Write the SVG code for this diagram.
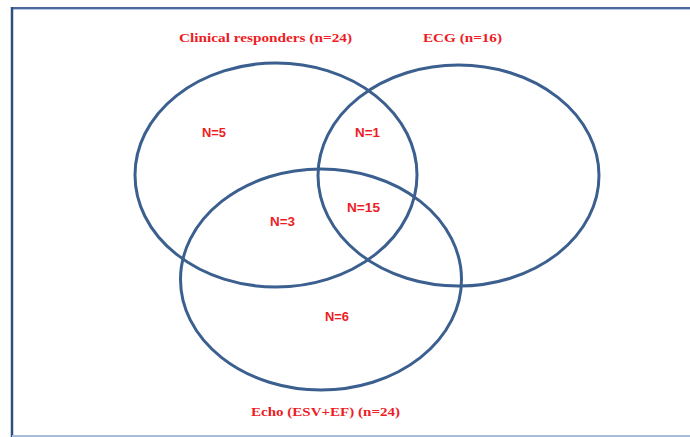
<svg xmlns="http://www.w3.org/2000/svg" width="690" height="437" viewBox="0 0 690 437">
<style>
.set{fill:none;stroke:#3b5f8e;stroke-width:3}
.title{font-family:"Liberation Serif","Times New Roman",serif;font-weight:bold;font-size:12px;fill:#ee1c25}
.n{font-family:"Liberation Sans",Arial,sans-serif;font-weight:bold;font-size:12px;fill:#ee1c25}
</style>
<rect x="0" y="0" width="690" height="437" fill="#ffffff"/>
<g id="frame">
<line x1="12" y1="8" x2="690" y2="8" stroke="#4a6a9a" stroke-width="2"/>
<line x1="12" y1="9.5" x2="690" y2="9.5" stroke="#b8c8e4" stroke-width="1"/>
<line x1="12" y1="7" x2="12" y2="437" stroke="#2f4f7f" stroke-width="2.5"/>
<line x1="12" y1="436" x2="690" y2="436" stroke="#a8bce0" stroke-width="2"/>
</g>
<g id="clinical">
<ellipse class="set" cx="276" cy="175" rx="141" ry="112"/>
<text class="title" x="179" y="42" textLength="173" lengthAdjust="spacingAndGlyphs">Clinical responders (n=24)</text>
</g>
<g id="ecg">
<ellipse class="set" cx="458.5" cy="175.5" rx="140.5" ry="110.5"/>
<text class="title" x="423" y="42" textLength="79" lengthAdjust="spacingAndGlyphs">ECG (n=16)</text>
</g>
<g id="echo">
<ellipse class="set" cx="321" cy="279.5" rx="140.5" ry="110.5"/>
<text class="title" x="251" y="416" textLength="149" lengthAdjust="spacingAndGlyphs">Echo (ESV+EF) (n=24)</text>
</g>
<g id="regions">
<text class="n" x="202" y="137" textLength="24" lengthAdjust="spacingAndGlyphs">N=5</text>
<text class="n" x="355" y="137" textLength="25" lengthAdjust="spacingAndGlyphs">N=1</text>
<text class="n" x="347" y="212" textLength="33" lengthAdjust="spacingAndGlyphs">N=15</text>
<text class="n" x="270" y="226" textLength="25" lengthAdjust="spacingAndGlyphs">N=3</text>
<text class="n" x="325" y="321" textLength="24" lengthAdjust="spacingAndGlyphs">N=6</text>
</g>
</svg>
